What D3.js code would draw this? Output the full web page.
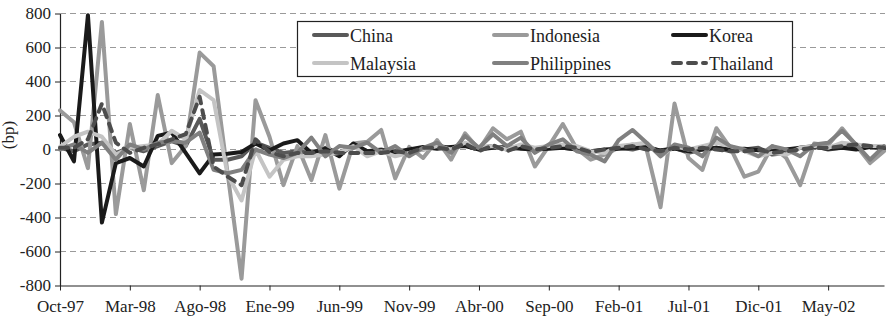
<!DOCTYPE html>
<html>
<head>
<meta charset="utf-8">
<script src="https://cdn.jsdelivr.net/npm/d3@7"></script>
<style>
  body { margin: 0; background: #fff; }
  svg { font-family: "Liberation Serif", "Times New Roman", serif; }
</style>
</head>
<body>
<div id="chart"></div>
<script>
// monthly categories, Oct-97 .. Sep-02
var months = [
  "Oct-97","Nov-97","Dic-97","Ene-98","Feb-98","Mar-98","Abr-98","May-98","Jun-98","Jul-98",
  "Ago-98","Sep-98","Oct-98","Nov-98","Dic-98","Ene-99","Feb-99","Mar-99","Abr-99","May-99",
  "Jun-99","Jul-99","Ago-99","Sep-99","Oct-99","Nov-99","Dic-99","Ene-00","Feb-00","Mar-00",
  "Abr-00","May-00","Jun-00","Jul-00","Ago-00","Sep-00","Oct-00","Nov-00","Dic-00","Ene-01",
  "Feb-01","Mar-01","Abr-01","May-01","Jun-01","Jul-01","Ago-01","Sep-01","Oct-01","Nov-01",
  "Dic-01","Ene-02","Feb-02","Mar-02","Abr-02","May-02","Jun-02","Jul-02","Ago-02","Sep-02"
];

var xTickLabels = ["Oct-97","Mar-98","Ago-98","Ene-99","Jun-99","Nov-99","Abr-00","Sep-00","Feb-01","Jul-01","Dic-01","May-02"];
var yTicks = [-800, -600, -400, -200, 0, 200, 400, 600, 800];

var china = [10, -10, 30, 40, -20, 10, -10, 20, 50, 20,
  180, -60, -60, -40, 40, 10, -20, -10, -20, 10,
  -20, 20, -10, 0, -20, -10, 0, 20, 10, 30,
  10, 20, 0, 10, 0, 10, 10, 0, -10, -10,
  10, 0, 20, -10, 10, -20, 0, 10, -10, 0,
  10, -30, -20, 10, 20, 0, 10, 20, 20, 0];

var indonesia = [230, 160, -110, 750, -380, 150, -240, 320, -80, 20,
  570, 490, -140, -760, 290, 75, -210, 20, -180, 85,
  -230, 35, 45, 115, -170, 15, -50, 55, -60, 95,
  0, 125, 60, 105, -100, 20, 150, 5, -60, -30,
  10, 30, 0, -340, 270, -50, -120, 125, 10, -160,
  -130, 20, -50, -210, 35, 25, 125, 25, -80, -10];

var korea = [85, -70, 790, -430, -80, -50, -100, 80, 100, -20,
  -140, -30, -25, -15, 35, -5, 35, 55, -20, 5,
  -40, 35, -10, -5, -15, 0, 15, 5, 15, 20,
  0, 10, 15, 5, 0, 5, 10, 0, -10, 0,
  5, 10, 10, -5, 5, -10, 0, 10, 0, 5,
  -5, -10, 0, 10, 15, 5, 10, 0, 15, 10];

var malaysia = [15, 75, 105, 75, -30, 10, 20, 30, 110, 60,
  350, 290, -150, -300, 0, -160, -60, -40, -40, -30,
  -20, 20, -40, -10, -40, -20, 0, 20, 0, 40,
  10, 20, 0, 30, 10, 20, 30, 20, -10, -20,
  20, 30, 40, -40, 20, 0, 20, 40, 20, -10,
  -40, -20, -30, 10, 20, 10, 40, 30, 20, 20];

var philippines = [0, 30, -20, 40, -60, 30, 0, 40, 50, 40,
  100, -120, -140, -120, 0, -30, -50, -20, 70, -40,
  20, 10, 40, -20, 20, -40, 10, 40, -20, 80,
  10, 90, 20, 70, -20, 30, 60, -10, -30, -70,
  55, 115, 40, -40, 30, 10, -40, 70, 20, 0,
  -40, 20, 0, -40, 30, 40, 110, 30, -60, 20];

var thailand = [10, 10, 60, 270, 40, -20, 10, 30, 60, 90,
  310, -100, -160, -210, 60, -15, -40, -20, -20, -10,
  -20, -20, -20, -20, -10, -20, 10, 10, 0, 35,
  -10, 25, -10, 20, 0, 10, 20, 10, -15, 0,
  10, 20, 0, -10, 10, 0, 10, 0, -10, -10,
  0, -20, -10, 0, 10, 10, 20, 30, 20, 10];

var seriesNames = ["China", "Indonesia", "Korea", "Malaysia", "Philippines", "Thailand"];
var seriesValues = [china, indonesia, korea, malaysia, philippines, thailand];
var seriesColors = ["#595959", "#9a9a9a", "#1a1a1a", "#c4c4c4", "#808080", "#4d4d4d"];

var width = 890, height = 318;
var plotLeft = 60, plotRight = 884, plotTop = 13.5, plotBottom = 285.5;

var svg = d3.select("#chart").append("svg")
    .attr("width", width)
    .attr("height", height);

var x = d3.scalePoint()
    .domain(months)
    .range([plotLeft, plotRight]);

var y = d3.scaleLinear()
    .domain([-800, 800])
    .range([plotBottom, plotTop]);

// dashed gridlines
svg.append("g")
    .selectAll("line")
    .data(yTicks.filter(d => d > -800))
    .enter()
    .append("line")
    .attr("x1", plotLeft)
    .attr("x2", plotRight + 1)
    .attr("y1", d => y(d))
    .attr("y2", d => y(d))
    .attr("stroke", "#9a9a9a")
    .attr("stroke-width", 1)
    .attr("stroke-dasharray", "6,4");

// y axis
var yAxis = svg.append("g")
    .attr("transform", `translate(${plotLeft},0)`)
    .call(d3.axisLeft(y).tickValues(yTicks).tickSize(5).tickSizeOuter(0).tickPadding(4).tickFormat(d => String(d)));

// x axis
var xAxis = svg.append("g")
    .attr("transform", `translate(0,${plotBottom})`)
    .call(d3.axisBottom(x).tickValues(xTickLabels).tickSize(5).tickSizeOuter(0).tickPadding(9));

[yAxis, xAxis].forEach(function(ax) {
    ax.selectAll("text")
        .style("font-family", "'Liberation Serif', serif")
        .style("font-size", "17px")
        .attr("fill", "#222");
    ax.selectAll("line").attr("stroke", "#222");
    ax.select(".domain").attr("stroke", "#222").attr("stroke-width", 1.2);
});

// y-axis label
svg.append("text")
    .attr("transform", `translate(14, 135) rotate(-90)`)
    .style("text-anchor", "middle")
    .style("font-size", "17px")
    .attr("fill", "#222")
    .text("(bp)");

// series lines
var line = d3.line()
    .x((d, i) => x(months[i]))
    .y(d => y(d));

seriesValues.forEach(function(vals, k) {
    svg.append("path")
        .datum(vals)
        .attr("fill", "none")
        .attr("stroke", seriesColors[k])
        .attr("stroke-width", 4)
        .attr("stroke-linejoin", "round")
        .attr("stroke-linecap", "round")
        .attr("stroke-dasharray", seriesNames[k] === "Thailand" ? "8,7" : null)
        .attr("d", line);
});

// legend
var legend = svg.append("g");
legend.append("rect")
    .attr("x", 297.5)
    .attr("y", 21.5)
    .attr("width", 495)
    .attr("height", 55)
    .attr("fill", "#fff")
    .attr("stroke", "#222")
    .attr("stroke-width", 1.2);

var colX = [312, 492, 671];
var rowY = [35, 63];

seriesNames.forEach(function(name, k) {
    var cx = colX[k % 3], cy = rowY[Math.floor(k / 3)];
    legend.append("line")
        .attr("x1", cx + 2)
        .attr("x2", cx + 35)
        .attr("y1", cy)
        .attr("y2", cy)
        .attr("stroke", seriesColors[k])
        .attr("stroke-width", 4)
        .attr("stroke-linecap", "round")
        .attr("stroke-dasharray", name === "Thailand" ? "8,7" : null);
    legend.append("text")
        .attr("x", cx + 38)
        .attr("y", cy + 6.5)
        .style("font-size", "18px")
        .attr("fill", "#222")
        .text(name);
});
</script>
</body>
</html>
